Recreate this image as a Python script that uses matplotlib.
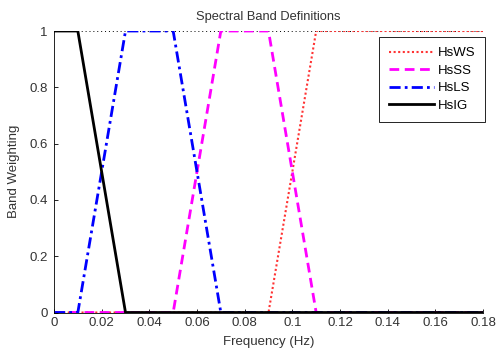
import matplotlib
matplotlib.use("Agg")
import matplotlib.pyplot as plt

# Data (break points of the band definitions)
freq_ws = [0.0, 0.09, 0.11, 0.18]
w_ws = [0, 0, 1, 1]
freq_ss = [0.0, 0.05, 0.07, 0.09, 0.11, 0.18]
w_ss = [0, 0, 1, 1, 0, 0]
freq_ls = [0.0, 0.01, 0.03, 0.05, 0.07, 0.18]
w_ls = [0, 0, 1, 1, 0, 0]
freq_ig = [0.0, 0.01, 0.03, 0.18]
w_ig = [1, 1, 0, 0]
labels = ["HsWS", "HsSS", "HsLS", "HsIG"]

xticks = [0, 0.02, 0.04, 0.06, 0.08, 0.1, 0.12, 0.14, 0.16, 0.18]
xticklabels = ["0", "0.02", "0.04", "0.06", "0.08", "0.1", "0.12", "0.14", "0.16", "0.18"]
yticks = [0, 0.2, 0.4, 0.6, 0.8, 1]
yticklabels = ["0", "0.2", "0.4", "0.6", "0.8", "1"]

plt.rcParams['font.family'] = ['Liberation Sans', 'DejaVu Sans']
plt.rcParams['font.size'] = 9.5

fig = plt.figure(figsize=(4.97, 3.56), dpi=100)
ax = fig.add_axes([54/497, 1-312.5/356, (483-54)/497, (312.5-31)/356])

ax.axhline(1, color='black', linestyle=(0, (1, 3)), linewidth=0.7, zorder=1)
ax.plot(freq_ws, w_ws, linestyle=(0, (1, 1.2)), color='#ff3333', linewidth=1.5, label=labels[0])
ax.plot(freq_ss, w_ss, linestyle=(0, (3.5, 2)), color='#ff00ff', linewidth=2, label=labels[1])
ax.plot(freq_ls, w_ls, linestyle=(0, (4, 1.5, 1, 1.5)), color='#0000ff', linewidth=2, label=labels[2])
ax.plot(freq_ig, w_ig, linestyle='-', color='black', linewidth=2, label=labels[3])

ax.set_xlim(0, 0.18)
ax.set_ylim(0, 1)
ax.set_xticks(xticks)
ax.set_xticklabels(xticklabels)
ax.set_yticks(yticks)
ax.set_yticklabels(yticklabels)
ax.tick_params(direction='in', length=3, width=0.6, colors='black', labelcolor='#333333')
ax.tick_params(axis='x', pad=3)
ax.tick_params(axis='y', pad=4.5)
for s in ['top', 'right']:
    ax.spines[s].set_visible(False)
for s in ['left', 'bottom']:
    ax.spines[s].set_linewidth(0.6)

ax.set_xlabel("Frequency (Hz)", color='#333333', labelpad=5)
ax.set_ylabel("Band Weighting", color='#333333', labelpad=7)
ax.set_title("Spectral Band Definitions", color='#333333', fontsize=9.3, pad=8)

leg = ax.legend(loc='upper right', bbox_to_anchor=(485/497, 1-37/356),
                bbox_transform=fig.transFigure, borderaxespad=0, fancybox=False,
                edgecolor='black', framealpha=1, handlelength=3.4, handletextpad=0.25,
                borderpad=0.75, labelspacing=0.4, fontsize=9.5)
leg.get_frame().set_linewidth(0.6)

fig.savefig("out.png", dpi=100)
